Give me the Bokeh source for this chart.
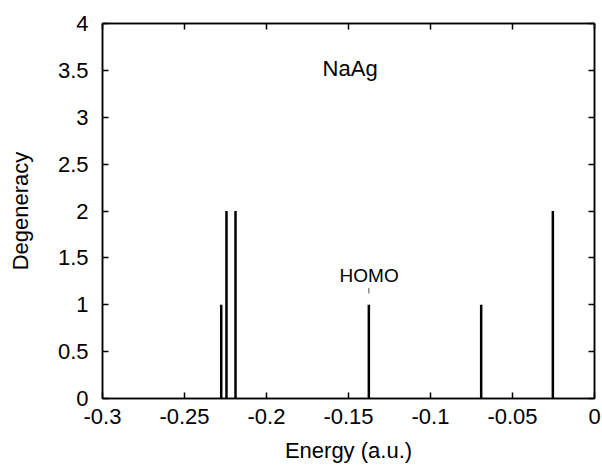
from bokeh.plotting import figure
from bokeh.models import FixedTicker, LinearAxis, Range1d, ColumnDataSource
from bokeh.core.properties import value
from bokeh.embed import file_html
from bokeh.resources import INLINE

# ---- data ----
energies = [-0.2276, -0.2244, -0.2189, -0.1376, -0.0691, -0.0254]
degeneracy = [1, 2, 2, 1, 1, 2]
x_ticks = [-0.3, -0.25, -0.2, -0.15, -0.1, -0.05, 0.0]
x_tick_labels = ["-0.3", "-0.25", "-0.2", "-0.15", "-0.1", "-0.05", "0"]
y_ticks = [0, 0.5, 1, 1.5, 2, 2.5, 3, 3.5, 4]
y_tick_labels = ["0", "0.5", "1", "1.5", "2", "2.5", "3", "3.5", "4"]
title_text = "NaAg"
title_pos = (-0.149, 3.52)
homo_text = "HOMO"
homo_pos = (-0.1374, 1.31)
homo_arrow_y = (1.18, 1.12)

FONT = "Liberation Sans"
FS = "22px"

p = figure(width=602, height=470, output_backend="svg", toolbar_location=None,
           x_range=Range1d(-0.3, 0.0), y_range=Range1d(0, 4),
           min_border_left=102, min_border_right=8, min_border_top=23, min_border_bottom=72)
p.background_fill_color = "white"
p.border_fill_color = "white"
p.outline_line_color = "black"
p.outline_line_width = 1.5
p.xgrid.visible = False
p.ygrid.visible = False

def style_axis(ax, ticks, labels, show_labels=True):
    ax.ticker = FixedTicker(ticks=ticks)
    ax.major_label_overrides = {t: l for t, l in zip(ticks, labels)}
    ax.major_tick_in = 6
    ax.major_tick_out = 0
    ax.minor_tick_in = 0
    ax.minor_tick_out = 0
    ax.major_tick_line_color = "black"
    ax.major_tick_line_width = 1.5
    ax.axis_line_color = "black"
    ax.axis_line_width = 1.5
    ax.major_label_text_font = FONT
    ax.major_label_text_font_size = FS
    ax.major_label_text_color = "black"
    ax.axis_label_text_font = FONT
    ax.axis_label_text_font_size = FS
    ax.axis_label_text_font_style = "normal"
    ax.axis_label_text_color = "black"
    if not show_labels:
        ax.major_label_text_font_size = "0px"
        ax.major_label_text_alpha = 0

style_axis(p.xaxis[0], x_ticks, x_tick_labels)
style_axis(p.yaxis[0], y_ticks, y_tick_labels)
p.xaxis[0].axis_label = "Energy (a.u.)"
p.yaxis[0].axis_label = "Degeneracy"
p.xaxis[0].major_label_standoff = 10
p.yaxis[0].major_label_standoff = 14
p.xaxis[0].axis_label_standoff = 11
p.yaxis[0].axis_label_standoff = 22

top = LinearAxis()
style_axis(top, x_ticks, x_tick_labels, show_labels=False)
p.add_layout(top, "above")
right = LinearAxis()
style_axis(right, y_ticks, y_tick_labels, show_labels=False)
p.add_layout(right, "right")
top.major_label_standoff = 0
right.major_label_standoff = 0

src = ColumnDataSource(dict(x=energies, y0=[0] * len(energies), y1=degeneracy))
p.segment(x0="x", y0="y0", x1="x", y1="y1", source=src, line_color="black", line_width=2.5)

p.text(x=[title_pos[0]], y=[title_pos[1]], text=[title_text], text_font=value(FONT),
       text_font_size=FS, text_align="center", text_baseline="middle", text_color="black")
p.text(x=[homo_pos[0]], y=[homo_pos[1]], text=[homo_text], text_font=value(FONT),
       text_font_size="19px", text_align="center", text_baseline="middle", text_color="black")
p.segment(x0=[energies[3]], y0=[homo_arrow_y[0]], x1=[energies[3]], y1=[homo_arrow_y[1]],
          line_color="#555555", line_width=1)

open("out.html", "w").write(file_html(p, INLINE))
